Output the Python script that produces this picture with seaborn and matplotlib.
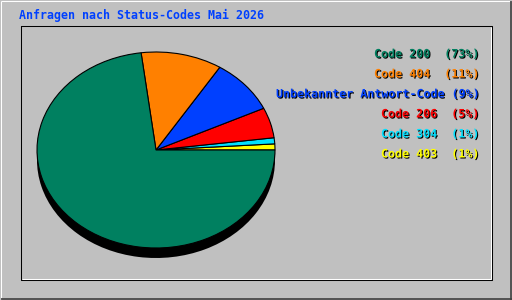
import matplotlib
matplotlib.use("Agg")
import matplotlib.pyplot as plt
import matplotlib.patheffects as pe
import seaborn as sns

# ---- data ----
title = "Anfragen nach Status-Codes Mai 2026"
labels = ["Code 200", "Code 404", "Unbekannter Antwort-Code", "Code 206", "Code 304", "Code 403"]
percents = [73, 11, 9, 5, 1, 1]
colors = ["#008060", "#FF8000", "#0040FF", "#FF0000", "#00E0FF", "#FFFF00"]

sns.set_theme(style="white")
plt.rcParams["font.family"] = ["DejaVu Sans Mono", "DejaVu Sans"]

W, H = 512, 300
BG = "#C0C0C0"
fig = plt.figure(figsize=(W / 100, H / 100), dpi=100, facecolor=BG)

# background axes in pixel coordinates (frames and texts)
bg = fig.add_axes([0, 0, 1, 1])
bg.set_xlim(0, W)
bg.set_ylim(H, 0)
bg.set_facecolor(BG)
bg.axis("off")

lw = 0.75
# outer raised frame
bg.plot([0.5, W - 0.5], [0.5, 0.5], color="white", lw=lw, solid_capstyle="butt")
bg.plot([0.5, 0.5], [0.5, H - 0.5], color="white", lw=lw, solid_capstyle="butt")
bg.plot([W - 1.5, W - 1.5], [0.5, H - 0.5], color="#404040", lw=lw * 1.6, solid_capstyle="butt")
bg.plot([0.5, W - 0.5], [H - 1.5, H - 1.5], color="#404040", lw=lw * 1.6, solid_capstyle="butt")
# inner sunken frame
x0, y0, x1, y1 = 20.5, 25.5, 491.5, 279.5
bg.plot([x0, x1, x1, x0, x0], [y0, y0, y1, y1, y0], color="black", lw=lw, solid_capstyle="butt")
bg.plot([x1 - 1, x1 - 1], [y0 + 1, y1 - 1], color="white", lw=lw, solid_capstyle="butt")
bg.plot([x0 + 1, x1 - 1], [y1 - 1, y1 - 1], color="white", lw=lw, solid_capstyle="butt")

# title
bg.text(19, 15, title, color="#0040FF", fontsize=8.4, fontweight="bold",
        ha="left", va="center")

# legend texts
shadow = [pe.withSimplePatchShadow(offset=(0.75, -0.75), shadow_rgbFace="black", alpha=1.0)]
for i, (lab, p, c) in enumerate(zip(labels, percents, colors)):
    sep = " " if len(lab) > 20 else "  "
    bg.text(479, 54 + 20 * i, f"{lab}{sep}({p}%)", color=c, fontsize=8.4,
            fontweight="bold", ha="right", va="center", path_effects=shadow)

# pie axes: ellipse rx=119, ry=98, depth 10 px
cx, cy, rx, ry, depth = 156, 150, 119, 98, 10
d = depth / ry
pax = fig.add_axes([(cx - rx) / W, (H - (cy + ry + depth)) / H, 2 * rx / W, (2 * ry + depth) / H])
pax.set_xlim(-1, 1)
pax.set_ylim(-1 - d, 1)
pax.set_aspect("auto")
pax.axis("off")

vals = percents[::-1]
cols = colors[::-1]
# side (depth) of the pie
pax.pie(vals, colors=["black"] * len(vals), startangle=0, counterclock=True,
        center=(0, -d), radius=1, wedgeprops=dict(linewidth=0))
# top face
pax.pie(vals, colors=cols, startangle=0, counterclock=True, center=(0, 0), radius=1,
        wedgeprops=dict(edgecolor="black", linewidth=0.8))
pax.set_xlim(-1, 1)
pax.set_ylim(-1 - d, 1)
pax.set_aspect("auto")

fig.savefig("out.png", dpi=100, facecolor=BG)
